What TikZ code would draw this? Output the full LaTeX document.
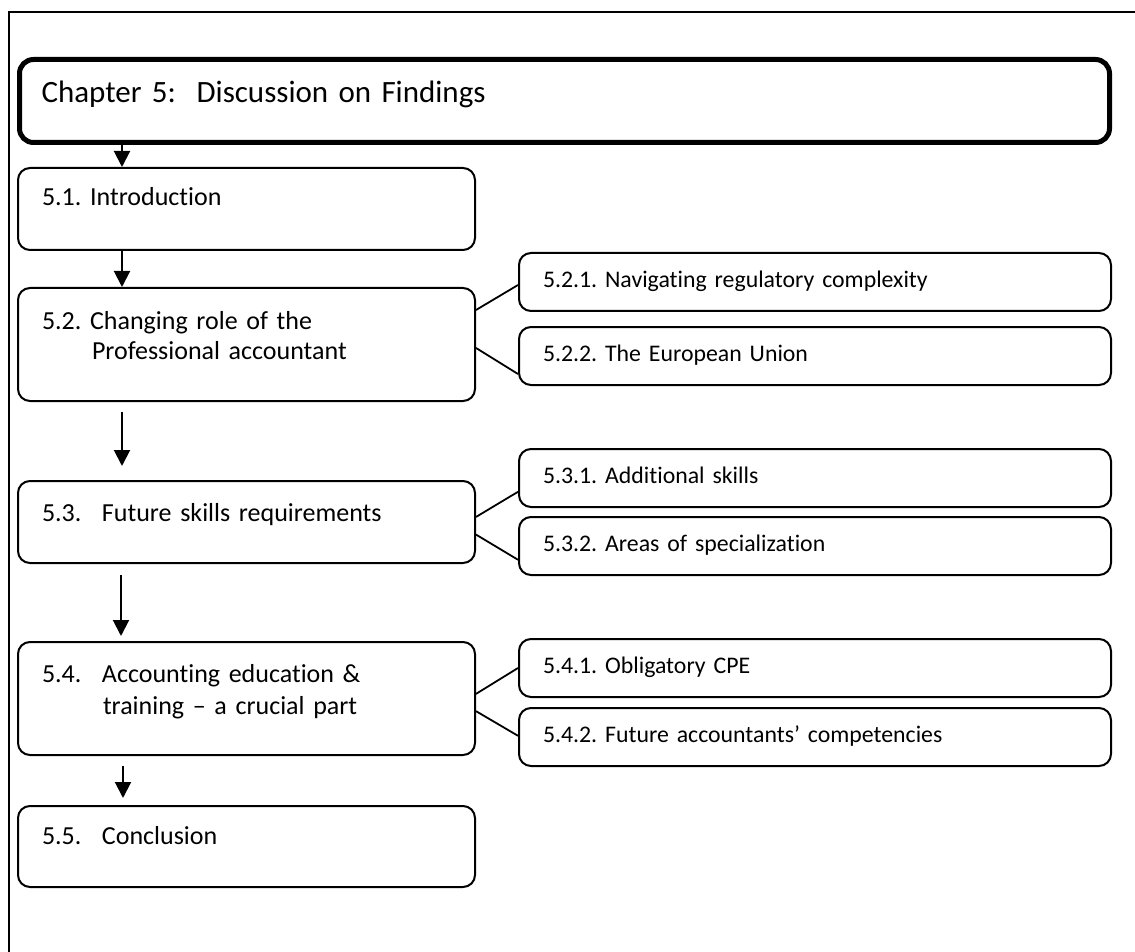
\documentclass[tikz,border=0pt]{standalone}
\usepackage{fontspec}
\setmainfont{Carlito}[Ligatures={TeX,NoCommon}]
\usetikzlibrary{arrows.meta,positioning,calc}

% number column with a tab stop
\newcommand{\secno}[1]{\makebox[30pt][l]{#1}}

\begin{document}
\frenchspacing
\begin{tikzpicture}[
      x=0.5pt, y=-0.5pt,
      font=\fontsize{13}{15}\selectfont,
      % Reusable styles
      chapbox/.style={
        draw,
        line width=2.5pt,
        rounded corners=7pt,
        align=left,
        anchor=north west,
        inner xsep=11pt,
        text width=523pt,
        minimum height=41.5pt,
        text height=11.5pt,
        text depth=9.5pt,
        font=\fontsize{15.5}{18}\selectfont
      },
      mainbox/.style={
        draw,
        line width=1pt,
        rounded corners=6pt,
        align=left,
        anchor=north west,
        inner xsep=12pt,
        text width=204.5pt,
        text height=9.5pt
      },
      subbox/.style={
        draw,
        line width=1pt,
        rounded corners=6pt,
        align=left,
        anchor=north west,
        inner xsep=12pt,
        text width=272pt,
        minimum height=29pt,
        text height=8.5pt,
        text depth=3pt,
        font=\fontsize{11.9}{14}\selectfont
      },
      link/.style={line width=0.9pt},
      arrow/.style={-{Triangle[width=8pt,length=8pt]}, line width=1pt}
    ]
    \useasboundingbox (0,0) rectangle (1135,952);
    % Outer frame
    \draw[line width=0.8pt] (9,12) rectangle (1160,980);

    % Chapter and main sections
    \node[chapbox] (chap) at (17,57) {Chapter 5:\ \ Discussion on Findings};
    \node[mainbox, below=11pt of chap.south west, anchor=north west, minimum height=41pt, text depth=12.5pt] (s51) {5.1. Introduction};
    \node[mainbox, below=18pt of s51.south west, anchor=north west, minimum height=56.5pt, text depth=25pt] (s52) {5.2. Changing role of the\\\hspace*{25pt}Professional accountant};
    \node[mainbox, below=39pt of s52.south west, anchor=north west, minimum height=41pt, text depth=10.5pt] (s53) {\secno{5.3.}Future skills requirements};
    \node[mainbox, below=38.5pt of s53.south west, anchor=north west, minimum height=56.5pt, text depth=26pt] (s54) {\secno{5.4.}Accounting education \&\\[1pt]\hspace*{30.5pt}training -- a crucial part};
    \node[mainbox, below=24.5pt of s54.south west, anchor=north west, minimum height=40.5pt, text depth=12pt] (s55) {\secno{5.5.}Conclusion};

    % Subsections
    \node[subbox] (s521) at ($(s52.north east)+(42,-35)$) {5.2.1. Navigating regulatory complexity};
    \node[subbox, below=7pt of s521.south west, anchor=north west] (s522) {5.2.2. The European Union};
    \node[subbox] (s531) at ($(s53.north east)+(42,-32)$) {5.3.1. Additional skills};
    \node[subbox, below=4pt of s531.south west, anchor=north west] (s532) {5.3.2. Areas of specialization};
    \node[subbox] (s541) at ($(s54.north east)+(42,-3)$) {5.4.1. Obligatory CPE};
    \node[subbox, below=4.5pt of s541.south west, anchor=north west] (s542) {5.4.2. Future accountants’ competencies};

    % Down arrows
    \draw[arrow] ([xshift=52.5pt]chap.south west) -- ([xshift=52.5pt]s51.north west);
    \draw[arrow] ([xshift=52.5pt]s51.south west) -- ([xshift=52.5pt]s52.north west);
    \draw[arrow, shorten <=5pt, shorten >=7pt] ([xshift=52.5pt]s52.south west) -- ([xshift=52.5pt]s53.north west);
    \draw[arrow, shorten <=5.5pt, shorten >=2.5pt] ([xshift=52pt]s53.south west) -- ([xshift=52pt]s54.north west);
    \draw[arrow, shorten <=5pt, shorten >=3.5pt] ([xshift=53pt]s54.south west) -- ([xshift=53pt]s55.north west);

    % Branch lines
    \draw[link] ($(s52.north east)!0.2!(s52.south east)$) -- ($(s521.north west)!0.55!(s521.south west)$);
    \draw[link] ($(s52.north east)!0.53!(s52.south east)$) -- ($(s522.north west)!0.8!(s522.south west)$);
    \draw[link] ($(s53.north east)!0.44!(s53.south east)$) -- ($(s531.north west)!0.73!(s531.south west)$);
    \draw[link] ($(s53.north east)!0.65!(s53.south east)$) -- ($(s532.north west)!0.73!(s532.south west)$);
    \draw[link] ($(s54.north east)!0.46!(s54.south east)$) -- ($(s541.north west)!0.5!(s541.south west)$);
    \draw[link] ($(s54.north east)!0.61!(s54.south east)$) -- ($(s542.north west)!0.48!(s542.south west)$);
  \end{tikzpicture}
\end{document}
